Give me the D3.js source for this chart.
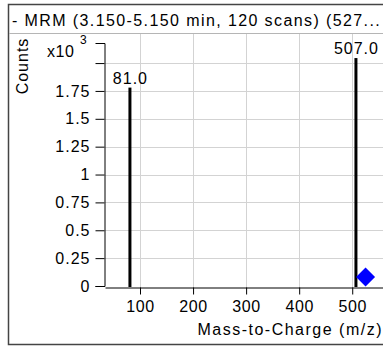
<!DOCTYPE html>
<html>
<head>
<meta charset="utf-8">
<script src="https://cdn.jsdelivr.net/npm/d3@7"></script>
<style>
  html, body { margin: 0; padding: 0; background: #fff; }
  svg { display: block; font-family: "Liberation Sans", Arial, sans-serif; }
</style>
</head>
<body>
<div id="chart"></div>
<script>
// Spectrum data (m/z, counts in thousands)
const peakMz = [81.0, 507.0];
const peakCounts = [1.78, 2.045];
const peakLabels = ['81.0', '507.0'];
const precursorMz = [527];
const precursorCounts = [0.08];
const xTicks = [100, 200, 300, 400, 500];
const yTicks = [0, 0.25, 0.5, 0.75, 1, 1.25, 1.5, 1.75, 2];
const yTickLabels = ['0', '0.25', '0.5', '0.75', '1', '1.25', '1.5', '1.75', ''];
const title = '- MRM (3.150-5.150 min, 120 scans) (527...';

const width = 383, height = 347;
const plotLeft = 105, plotRight = 383, plotTop = 43, plotBottom = 286;
const FONT = 'Liberation Sans, Arial, sans-serif';

const svg = d3.select('#chart').append('svg')
  .attr('width', width)
  .attr('height', height);

// Frame
svg.append('path')
  .attr('d', `M383,4.5H8.5V344.5H383`)
  .attr('fill', 'none')
  .attr('stroke', '#444')
  .attr('stroke-width', 1.5);

svg.append('line')
  .attr('x1', 9).attr('x2', 383)
  .attr('y1', 33.5).attr('y2', 33.5)
  .attr('stroke', '#b5b5b5');

svg.append('text')
  .attr('x', 12)
  .attr('y', 26)
  .attr('font-size', '16px')
  .attr('letter-spacing', '1.4px')
  .attr('fill', '#000')
  .text(title);

const x = d3.scaleLinear().domain([34, 558]).range([plotLeft, plotRight]);
const y = d3.scaleLinear().domain([0, 2.18]).range([plotBottom, plotTop]);

// Grid
const grid = svg.append('g');
grid.selectAll('.vg')
  .data(xTicks)
  .enter().append('line')
  .attr('x1', d => Math.round(x(d)) + 0.5)
  .attr('x2', d => Math.round(x(d)) + 0.5)
  .attr('y1', 34).attr('y2', plotBottom + 2)
  .attr('stroke', '#d3d3d3');
grid.selectAll('.hg')
  .data(yTicks.filter(d => d > 0))
  .enter().append('line')
  .attr('x1', plotLeft).attr('x2', plotRight)
  .attr('y1', d => Math.round(y(d)) + 0.5)
  .attr('y2', d => Math.round(y(d)) + 0.5)
  .attr('stroke', '#d3d3d3');

// Axes
const yAxis = d3.axisLeft(y)
  .tickValues(yTicks)
  .tickFormat((d, i) => yTickLabels[i])
  .tickSize(9)
  .tickSizeOuter(9);
const yG = svg.append('g')
  .attr('transform', `translate(${plotLeft - 0.5},0)`)
  .call(yAxis);
yG.selectAll('text')
  .attr('font-size', '16px')
  .attr('letter-spacing', '1px')
  .attr('fill', '#000')
  .attr('x', -14)
  .attr('font-family', FONT);

const xAxis = d3.axisBottom(x)
  .tickValues(xTicks)
  .tickSize(7)
  .tickSizeOuter(0);
const xG = svg.append('g')
  .attr('transform', `translate(0,${plotBottom + 1.5})`)
  .call(xAxis);
xG.selectAll('text')
  .attr('font-size', '16px')
  .attr('letter-spacing', '0.6px')
  .attr('fill', '#000')
  .attr('y', 13)
  .attr('font-family', FONT);

// Axis titles
svg.append('text')
  .attr('transform', 'translate(28,66) rotate(-90)')
  .attr('text-anchor', 'middle')
  .attr('font-size', '16px')
  .attr('letter-spacing', '1px')
  .text('Counts');

const sci = svg.append('text')
  .attr('x', 47).attr('y', 57)
  .attr('font-size', '16px')
  .attr('letter-spacing', '0.6px');
sci.append('tspan').text('x10');
sci.append('tspan').attr('x', 80).attr('font-size', '12px').attr('dy', -13).text('3');

svg.append('text')
  .attr('x', 383)
  .attr('y', 335)
  .attr('text-anchor', 'end')
  .attr('font-size', '16px')
  .attr('letter-spacing', '1.5px')
  .text('Mass-to-Charge (m/z)');

// Peaks
const peaks = peakMz.map((m, i) => ({ mz: m, c: peakCounts[i], label: peakLabels[i] }));
svg.selectAll('.bar')
  .data(peaks)
  .enter().append('line')
  .attr('x1', d => x(d.mz)).attr('x2', d => x(d.mz))
  .attr('y1', y(0) + 1).attr('y2', d => y(d.c))
  .attr('stroke', '#000')
  .attr('stroke-width', 3);

svg.selectAll('.plabel')
  .data(peaks)
  .enter().append('text')
  .attr('x', d => x(d.mz) + 0.5)
  .attr('y', d => y(d.c) - 4)
  .attr('text-anchor', 'middle')
  .attr('font-size', '16px')
  .attr('letter-spacing', '1px')
  .text(d => d.label);

// Precursor marker
svg.selectAll('.prec')
  .data(precursorMz)
  .enter().append('path')
  .attr('d', d3.symbol().type(d3.symbolSquare).size(180))
  .attr('transform', (d, i) => `translate(${x(d) - 1},${y(precursorCounts[i])}) rotate(45)`)
  .attr('fill', '#0000ff');
</script>
</body>
</html>
